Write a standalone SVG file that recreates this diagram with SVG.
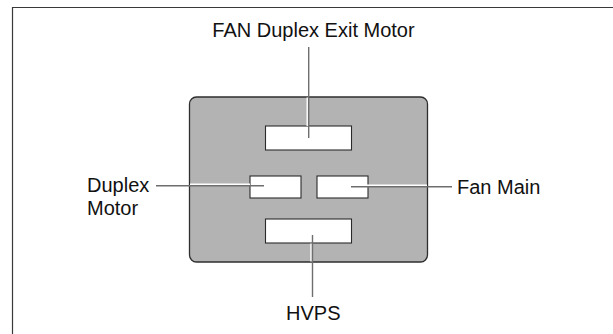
<svg xmlns="http://www.w3.org/2000/svg" width="613" height="334" viewBox="0 0 613 334">
<style>
.frame{fill:none;stroke:#3a3a3a;stroke-width:1.2}
.panel{fill:#b3b3b3;stroke:#2e2e2e;stroke-width:1.3}
.box{fill:#fff;stroke:#2a2a2a;stroke-width:1.1}
.lead{fill:none;stroke:#6e6e6e;stroke-width:1.4}
.halo{fill:none;stroke:#fff;stroke-width:1.4}
.lbl{font-family:"Liberation Sans",Arial,sans-serif;font-size:20px;fill:#111}
</style>
<rect width="613" height="334" fill="#fff"/>
<path class="frame" d="M12.5,340 V7.5 H620"/>
<g id="panel"><rect class="panel" x="189.5" y="97" width="238" height="165" rx="7"/></g>
<g id="fan-duplex-exit-motor"><rect class="box" x="265.5" y="126" width="86" height="24"/><text class="lbl" x="313.5" y="37" text-anchor="middle">FAN Duplex Exit Motor</text></g>
<g id="duplex-motor"><rect class="box" x="250" y="176" width="51" height="22"/><text class="lbl" x="87" y="192">Duplex</text><text class="lbl" x="87" y="215">Motor</text></g>
<g id="fan-main"><rect class="box" x="317" y="176" width="51" height="22"/><text class="lbl" x="457" y="193.5">Fan Main</text></g>
<g id="hvps"><rect class="box" x="265.5" y="219" width="86" height="24"/><text class="lbl" x="313.3" y="320" text-anchor="middle">HVPS</text></g>
<g id="connectors">
<path class="halo" d="M190,184.2 H250 M307.2,97.5 V126 M351.5,185.2 H427 M311,243.5 V261.5"/>
<line class="lead" x1="308.7" y1="47" x2="308.7" y2="138"/>
<line class="lead" x1="156" y1="185.7" x2="264" y2="185.7"/>
<line class="lead" x1="351" y1="186.7" x2="452" y2="186.7"/>
<line class="lead" x1="312.5" y1="235" x2="312.5" y2="297"/>
</g>
</svg>
